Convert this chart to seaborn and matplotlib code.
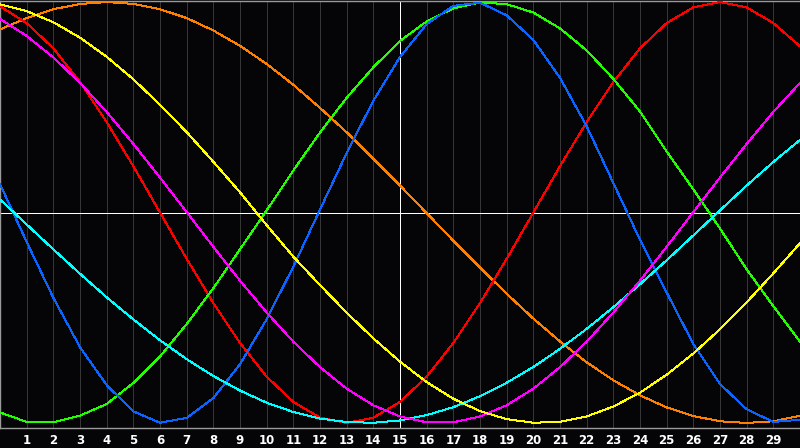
import numpy as np
import pandas as pd
import matplotlib
matplotlib.use("Agg")
import matplotlib.pyplot as plt
import seaborn as sns

# x positions 0..30, labels 1..29
x_vals = list(range(31))
tick_pos = list(range(1, 30))
tick_labels = [str(i) for i in tick_pos]

orange = [0.87, 0.924, 0.966, 0.991, 1.0, 0.991, 0.966, 0.924, 0.865, 0.792, 0.706,
          0.607, 0.497, 0.381, 0.256, 0.128, -0.003, -0.134, -0.262, -0.386, -0.504,
          -0.613, -0.712, -0.797, -0.869, -0.926, -0.967, -0.992, -1.0, -0.992, -0.966]
red = [0.98, 0.90, 0.78, 0.62, 0.43, 0.22, 0.0, -0.22, -0.43, -0.62, -0.78,
       -0.90, -0.975, -1.0, -0.975, -0.90, -0.78, -0.62, -0.43, -0.22, 0.0,
       0.22, 0.43, 0.62, 0.78, 0.90, 0.975, 1.0, 0.975, 0.90, 0.79]
green = [-0.95, -0.995, -0.997, -0.965, -0.91, -0.81, -0.685, -0.53, -0.36, -0.175, 0.01,
         0.20, 0.38, 0.545, 0.69, 0.815, 0.908, 0.97, 0.998, 0.99, 0.95,
         0.875, 0.77, 0.635, 0.48, 0.29, 0.11, -0.076, -0.27, -0.445, -0.614]
blue = [0.135, -0.14, -0.405, -0.64, -0.82, -0.945, -0.999, -0.976, -0.882, -0.721, -0.507,
        -0.257, 0.014, 0.283, 0.531, 0.739, 0.895, 0.982, 0.997, 0.937, 0.82,
        0.64, 0.41, 0.14, -0.13, -0.38, -0.625, -0.815, -0.935, -0.995, -0.985]
cyan = [0.062, -0.057, -0.175, -0.291, -0.403, -0.508, -0.607, -0.697, -0.777, -0.846, -0.904,
        -0.948, -0.979, -0.996, -0.999, -0.988, -0.963, -0.925, -0.873, -0.809, -0.734,
        -0.648, -0.553, -0.45, -0.341, -0.227, -0.109, 0.01, 0.128, 0.24, 0.345]
magenta = [0.92, 0.839, 0.737, 0.616, 0.478, 0.326, 0.166, 0.002, -0.163, -0.324, -0.475,
           -0.614, -0.735, -0.837, -0.916, -0.969, -0.997, -0.997, -0.969, -0.916, -0.837,
           -0.735, -0.614, -0.475, -0.324, -0.163, 0.002, 0.166, 0.326, 0.478, 0.616]
yellow = [0.989, 0.957, 0.904, 0.831, 0.74, 0.633, 0.512, 0.382, 0.241, 0.096, -0.06,
          -0.21, -0.345, -0.476, -0.598, -0.709, -0.806, -0.885, -0.944, -0.982, -0.999,
          -0.995, -0.969, -0.922, -0.856, -0.771, -0.67, -0.555, -0.427, -0.289, -0.146]

series = {"orange": orange, "red": red, "green": green, "blue": blue,
          "cyan": cyan, "magenta": magenta, "yellow": yellow}
colors = {"orange": "#ff8000", "red": "#ff0000", "green": "#22ff00", "blue": "#0a64ff",
          "cyan": "#00ffff", "magenta": "#ff00ff", "yellow": "#ffff00"}

rows = []
for name, vals in series.items():
    for xv, yv in zip(x_vals, vals):
        rows.append({"x": xv, "y": yv, "series": name})
df = pd.DataFrame(rows)

sns.set_style("dark")
plt.rcParams["font.family"] = ["DejaVu Sans"]

px = 0.72  # one pixel at 100 dpi
fig = plt.figure(figsize=(8, 4.48), dpi=100, facecolor="#050508")
ax = fig.add_axes([0, 20 / 448, 1, 427 / 448])
ax.set_facecolor("#050508")

# vertical grid
for t in tick_pos:
    ax.axvline(t, color="#363636", lw=px, zorder=1, antialiased=False)

sns.lineplot(data=df, x="x", y="y", hue="series", palette=colors, ax=ax,
             linewidth=px, legend=False, sort=False, zorder=3)
for ln in ax.get_lines():
    ln.set_antialiased(False)

# crosshair
ax.axvline(15, color="white", lw=px, zorder=2, antialiased=False)
ax.axhline(0, color="white", lw=px, zorder=2, antialiased=False)

ax.set_xlim(0, 30)
ax.set_ylim(-1.024, 1.005)
ax.set_xticks(tick_pos)
ax.set_xticklabels(tick_labels, color="white", fontsize=8.5, fontweight="bold")
ax.set_yticks([])
ax.tick_params(axis="x", length=0, pad=4)
ax.set_xlabel("")
ax.set_ylabel("")
ax.grid(False)
for side in ["left", "top", "bottom"]:
    ax.spines[side].set_visible(True)
    ax.spines[side].set_color("#9a9a9a")
    ax.spines[side].set_linewidth(1.0)
ax.spines["right"].set_visible(False)

fig.savefig("out.png", dpi=100, facecolor=fig.get_facecolor())
